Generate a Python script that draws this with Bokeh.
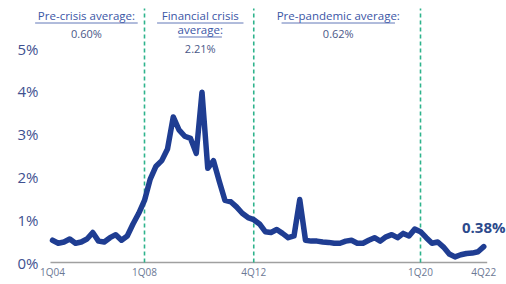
from bokeh.plotting import figure
from bokeh.models import Range1d
from bokeh.core.properties import value
from bokeh.embed import file_html
from bokeh.resources import INLINE

# ---------------- data ----------------
quarters = [f"{q}Q{y:02d}" for y in range(4, 23) for q in range(1, 5)]  # 1Q04 .. 4Q22
npl_ratio = [
    0.52, 0.45, 0.48, 0.55, 0.45, 0.48, 0.55, 0.70, 0.50, 0.48, 0.58, 0.65, 0.52, 0.62, 0.90, 1.15,
    1.45, 1.95, 2.25, 2.38, 2.65, 3.40, 3.10, 2.95, 2.90, 2.55, 3.98, 2.20, 2.38, 1.90, 1.45, 1.42,
    1.30, 1.15, 1.05, 1.00, 0.90, 0.72, 0.70, 0.77, 0.68, 0.58, 0.62, 1.47, 0.52, 0.50, 0.50, 0.48,
    0.47, 0.45, 0.45, 0.50, 0.52, 0.45, 0.45, 0.52, 0.58, 0.50, 0.60, 0.65, 0.58, 0.68, 0.62, 0.78,
    0.72, 0.58, 0.45, 0.48, 0.36, 0.20, 0.13, 0.18, 0.21, 0.22, 0.25, 0.37,
]
x_tick_labels = ["1Q04", "1Q08", "4Q12", "1Q20", "4Q22"]
y_ticks = [0, 1, 2, 3, 4, 5]
y_tick_labels = ["0%", "1%", "2%", "3%", "4%", "5%"]
period_breaks = ["1Q08", "4Q12", "1Q20"]
period_titles = [["Pre-crisis average:"], ["Financial crisis", "average:"], ["Pre-pandemic average:"]]
period_averages = ["0.60%", "2.21%", "0.62%"]
last_label = "0.38%"

# ---------------- styling / layout ----------------
FONT = "Open Sans"
LINE_BLUE = "#1f3d92"
TEAL = "#2eb38c"
LABEL_BLUE = "#3f5190"
TITLE_BLUE = "#3b56a6"
W, H = 506, 284
PX_PER_UNIT = 42.8     # pixels per 1 percentage point
PX_PER_Q = 5.75        # pixels per quarter
ZERO_PAGE = 262        # page y of 0%
DATA_LEFT = 52         # page x of the first quarter
TITLE_CENTERS = [5.9, 25.7, 49.7]   # horizontal centres of the period notes (in quarters)
YLABEL_RIGHT = -2.45                 # right edge of the y tick labels (in quarters)
XLABEL_Y = -9 / PX_PER_UNIT          # vertical position of the x tick labels
DASH_TOP = (ZERO_PAGE - 8) / PX_PER_UNIT

x = list(range(len(quarters)))

x_start = -DATA_LEFT / PX_PER_Q
x_end = x_start + W / PX_PER_Q
y_top = ZERO_PAGE / PX_PER_UNIT
y_bot = -(H - ZERO_PAGE) / PX_PER_UNIT
p = figure(width=W, height=H, output_backend="svg", toolbar_location=None,
           x_range=Range1d(x_start, x_end), y_range=Range1d(y_bot, y_top),
           min_border=0)
p.outline_line_color = None
p.xgrid.visible = False
p.ygrid.visible = False
p.xaxis.visible = False
p.yaxis.visible = False
p.background_fill_color = "white"
p.border_fill_color = "white"

# y tick labels
p.text(x=[YLABEL_RIGHT] * len(y_ticks), y=y_ticks, text=y_tick_labels, text_align="right",
       text_baseline="middle", text_font=value(FONT), text_font_size="15px",
       text_color=LABEL_BLUE)

# x tick labels
p.text(x=[quarters.index(t) for t in x_tick_labels], y=[XLABEL_Y] * len(x_tick_labels),
       text=x_tick_labels, text_align="center", text_baseline="middle",
       text_font=value(FONT), text_font_size="10px", text_color="#6b7894")

# baseline (axis line) spanning the data
p.segment(x0=[x[0] - 0.35], y0=[0], x1=[x[-1] + 0.6], y1=[0], line_color="#a0a0a0", line_width=1.5)

# period separators
brk = [quarters.index(q) for q in period_breaks]
p.segment(x0=brk, y0=[0] * len(brk), x1=brk, y1=[DASH_TOP] * len(brk), line_color=TEAL,
          line_width=1.6, line_dash="4 3")

# main series
p.line(x, npl_ratio, line_width=5.5, line_color=LINE_BLUE, line_join="round", line_cap="round")

# period annotations
top_line_y = (ZERO_PAGE - 15) / PX_PER_UNIT
line_step = 14 / PX_PER_UNIT
for cx, titles, avg in zip(TITLE_CENTERS, period_titles, period_averages):
    for k, t in enumerate(titles):
        ty = top_line_y - k * line_step
        p.text(x=[cx], y=[ty], text=[t], text_align="center", text_baseline="middle",
               text_font=value(FONT), text_font_size="11.5px", text_color=TITLE_BLUE)
        half_w = len(t) * 5.4 / 2 / PX_PER_Q
        uy = ty - 7.5 / PX_PER_UNIT
        p.segment(x0=[cx - half_w], y0=[uy], x1=[cx + half_w], y1=[uy],
                  line_color=TITLE_BLUE, line_width=0.8)
    ay = top_line_y - (len(titles) - 1) * line_step - (18 + (len(titles) - 1) * 1) / PX_PER_UNIT
    p.text(x=[cx], y=[ay], text=[avg], text_align="center", text_baseline="middle",
           text_font=value(FONT), text_font_size="11px", text_color="#4a5888")

# last value label
p.text(x=[x[-1]], y=[npl_ratio[-1] + 0.45], text=[last_label], text_align="center",
       text_baseline="middle", text_font=value(FONT), text_font_size="15px",
       text_font_style="bold", text_color="#2c4a8c")

open("out.html", "w").write(file_html(p, INLINE))
